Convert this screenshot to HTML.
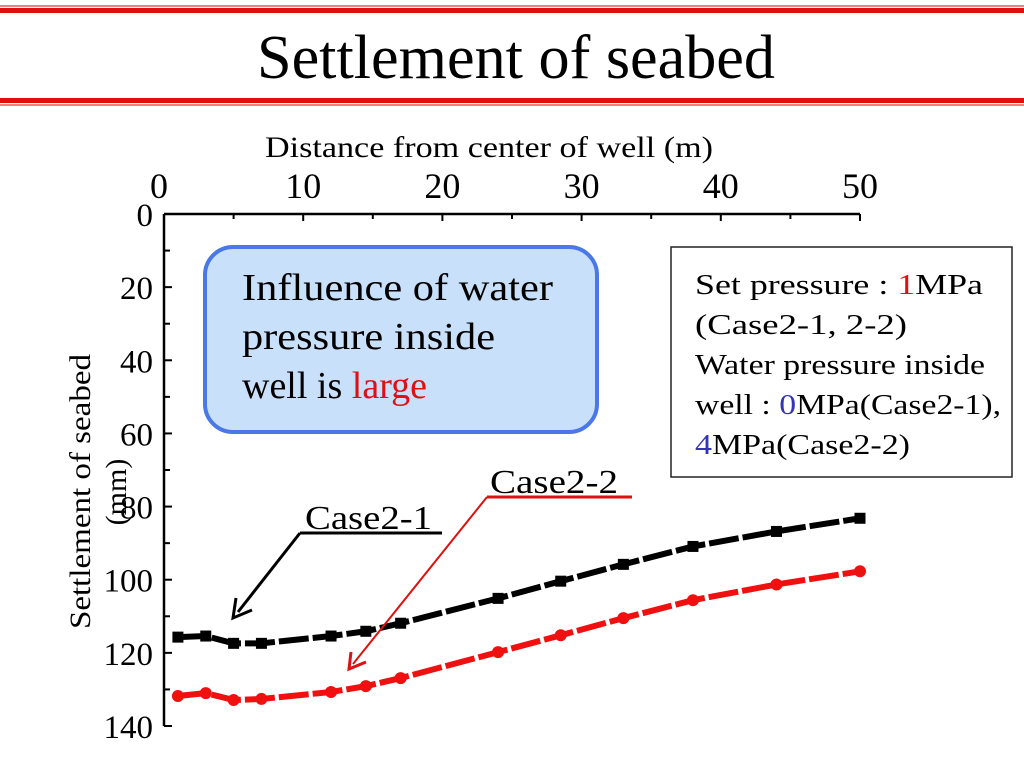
<!DOCTYPE html>
<html><head><meta charset="utf-8"><style>
body{margin:0;background:#fff;}
svg{display:block;font-family:"Liberation Serif",serif;}
</style></head><body>
<svg width="1024" height="768" viewBox="0 0 1024 768">
<g>
<rect x="0" y="5" width="1024" height="2" fill="#f08080"/>
<rect x="0" y="8" width="1024" height="5" fill="#e01010"/>
<text x="257" y="78" font-size="62" textLength="518" lengthAdjust="spacingAndGlyphs">Settlement of seabed</text>
<rect x="0" y="98" width="1024" height="5" fill="#e01010"/>
<rect x="0" y="104" width="1024" height="2" fill="#f08080"/>
</g>
<text x="265" y="157" font-size="30" textLength="448" lengthAdjust="spacingAndGlyphs">Distance from center of well (m)</text>
<g id="axes"></g>
<g transform="translate(90,492) rotate(-90)">
<text x="-137" y="0" font-size="30" textLength="275" lengthAdjust="spacingAndGlyphs">Settlement of seabed</text>
<text x="0" y="36" font-size="30" text-anchor="middle">(mm)</text>
</g>
<g id="series"></g>
<rect x="205" y="247" width="392" height="185" rx="28" fill="#c9e0fa" stroke="#4a78e8" stroke-width="4"/>
<text font-size="38">
<tspan x="242" y="300" textLength="311" lengthAdjust="spacingAndGlyphs">Influence of water</tspan>
<tspan x="242" y="349" textLength="253" lengthAdjust="spacingAndGlyphs">pressure inside</tspan>
<tspan x="242" y="398">well is <tspan fill="#e01010">large</tspan></tspan>
</text>
<rect x="671" y="247" width="341" height="230" fill="#fff" stroke="#222" stroke-width="1.5"/>
<g font-size="28">
<text x="695" y="294" textLength="288" lengthAdjust="spacingAndGlyphs">Set pressure : <tspan fill="#e01010">1</tspan>MPa</text>
<text x="695" y="334" textLength="212" lengthAdjust="spacingAndGlyphs">(Case2-1, 2-2)</text>
<text x="695" y="374" textLength="290" lengthAdjust="spacingAndGlyphs">Water pressure inside</text>
<text x="695" y="414" textLength="306" lengthAdjust="spacingAndGlyphs">well : <tspan fill="#3333bb">0</tspan>MPa(Case2-1),</text>
<text x="695" y="454" textLength="215" lengthAdjust="spacingAndGlyphs"><tspan fill="#3333bb">4</tspan>MPa(Case2-2)</text>
</g>
<g>
<text x="305" y="529" font-size="34" textLength="127" lengthAdjust="spacingAndGlyphs">Case2-1</text>
<line x1="300" y1="533" x2="442" y2="533" stroke="#000" stroke-width="3"/>
<line x1="300" y1="533" x2="238" y2="612" stroke="#000" stroke-width="3"/>
<polyline points="236,598 233,618 252,610" fill="none" stroke="#000" stroke-width="3"/>
</g>
<g>
<text x="490" y="493" font-size="34" textLength="128" lengthAdjust="spacingAndGlyphs">Case2-2</text>
<line x1="487" y1="497" x2="632" y2="497" stroke="#e01010" stroke-width="3"/>
<line x1="487" y1="497" x2="353" y2="664" stroke="#e01010" stroke-width="2"/>
<polyline points="351,652 349,669 366,662" fill="none" stroke="#e01010" stroke-width="3"/>
</g>
<script>
const xValues=[1,3,5,7,12,14.5,17,24,28.5,33,38,44,50];
const case21=[115.7,115.4,117.4,117.4,115.4,114.1,111.9,105.1,100.4,95.8,90.9,86.8,83.2];
const case22=[131.8,131,132.9,132.6,130.7,129.1,126.9,119.8,115.2,110.5,105.6,101.3,97.7];
const xTicks=[0,10,20,30,40,50];
const yTicks=[0,20,40,60,80,100,120,140];
const NS="http://www.w3.org/2000/svg";
const X0=164,X1=860,Y0=214,Y1=726;
function sx(v){return X0+(X1-X0)*v/50;}
function sy(v){return Y0+(Y1-Y0)*v/140;}
function mk(t,a,p){const e=document.createElementNS(NS,t);for(const k in a)e.setAttribute(k,a[k]);p.appendChild(e);return e;}
const ax=document.getElementById('axes');
const xl=mk('line',{x1:X0,y1:Y0,x2:X1,y2:Y0,stroke:'#000','stroke-width':2.5},ax);


const yl=mk('line',{x1:X0,y1:Y0,x2:X0,y2:Y1,stroke:'#000','stroke-width':2.5},ax);


for(let v=0;v<=50;v+=5){const l=mk('line',{x1:sx(v),y1:Y0,x2:sx(v),y2:Y0+(v%10===0?7:5),stroke:'#000','stroke-width':2},ax);

}
for(let v=0;v<=140;v+=10){const l=mk('line',{x1:X0,y1:sy(v),x2:X0+(v%20===0?8:6),y2:sy(v),stroke:'#000','stroke-width':2},ax);

}
xTicks.forEach(v=>{const t=mk('text',{x:sx(v)-(v===0?5:0),y:198,'font-size':36,'text-anchor':'middle'},ax);t.textContent=v;

});
yTicks.forEach(v=>{const t=mk('text',{x:153,y:sy(v)+12,'font-size':33,'text-anchor':'end'},ax);t.textContent=v;

});
const sg=document.getElementById('series');
function draw(vals,col,name,sq){
const pl=mk('polyline',{points:xValues.map((x,i)=>sx(x)+','+sy(vals[i])).join(' '),fill:'none',stroke:col,'stroke-width':6,'stroke-dasharray':'30 4'},sg);


xValues.forEach((x,i)=>{let m;
if(sq)m=mk('rect',{x:sx(x)-5.5,y:sy(vals[i])-5.5,width:11,height:11,fill:col},sg);
else m=mk('circle',{cx:sx(x),cy:sy(vals[i]),r:6,fill:col},sg);

});
}
draw(case21,'#000','case2-1',true);
draw(case22,'#f01010','case2-2',false);
</script>
</svg>
</body></html>
